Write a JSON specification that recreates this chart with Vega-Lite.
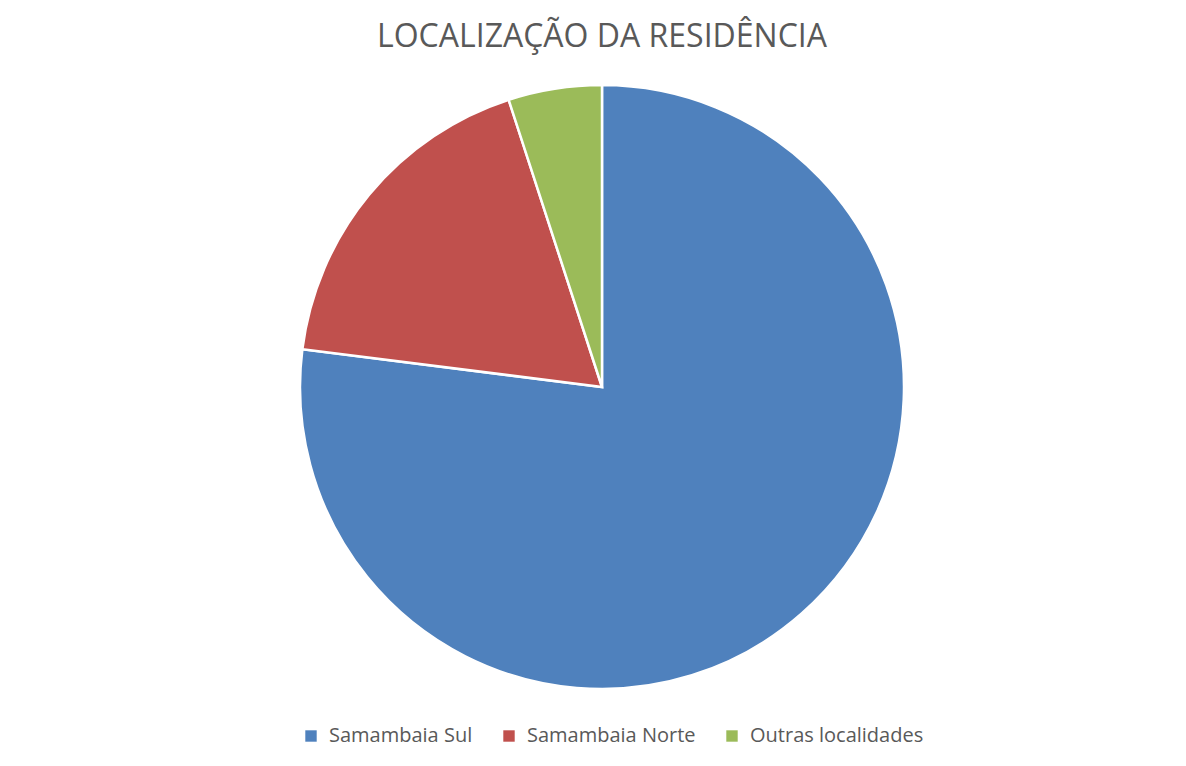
{
  "$schema": "https://vega.github.io/schema/vega-lite/v6.json",
  "autosize": {"type": "none"},
  "padding": {"left": 6, "top": 11, "right": 0, "bottom": 0},
  "width": 1192,
  "height": 752,
  "background": "white",
  "config": {"view": {"stroke": "#dcdcdc", "strokeWidth": 2}},
  "title": {
    "text": "LOCALIZAÇÃO DA RESIDÊNCIA",
    "font": "Open Sans",
    "fontSize": 32,
    "fontWeight": "normal",
    "color": "#595959",
    "anchor": "middle",
    "baseline": "alphabetic",
    "offset": -68
  },
  "data": {
    "values": [
      {"local": "Samambaia Sul", "pct": 77},
      {"local": "Samambaia Norte", "pct": 18},
      {"local": "Outras localidades", "pct": 5}
    ]
  },
  "mark": {"type": "arc", "outerRadius": 302, "stroke": "white", "strokeWidth": 2.5},
  "encoding": {
    "theta": {"field": "pct", "type": "quantitative", "stack": true},
    "order": {"field": "pct", "type": "quantitative", "sort": "descending"},
    "color": {
      "field": "local",
      "type": "nominal",
      "scale": {
        "domain": ["Samambaia Sul", "Samambaia Norte", "Outras localidades"],
        "range": ["#4F81BD", "#C0504D", "#9BBB59"]
      },
      "legend": {
        "title": null,
        "orient": "none",
        "direction": "horizontal",
        "legendX": 295,
        "legendY": 715,
        "padding": 0,
        "symbolType": "square",
        "symbolSize": 130,
        "symbolStrokeWidth": 0,
        "labelFont": "Open Sans",
        "labelFontSize": 20,
        "labelLimit": 400,
        "labelColor": "#595959",
        "columnPadding": 26,
        "labelOffset": 8
      }
    }
  }
}
